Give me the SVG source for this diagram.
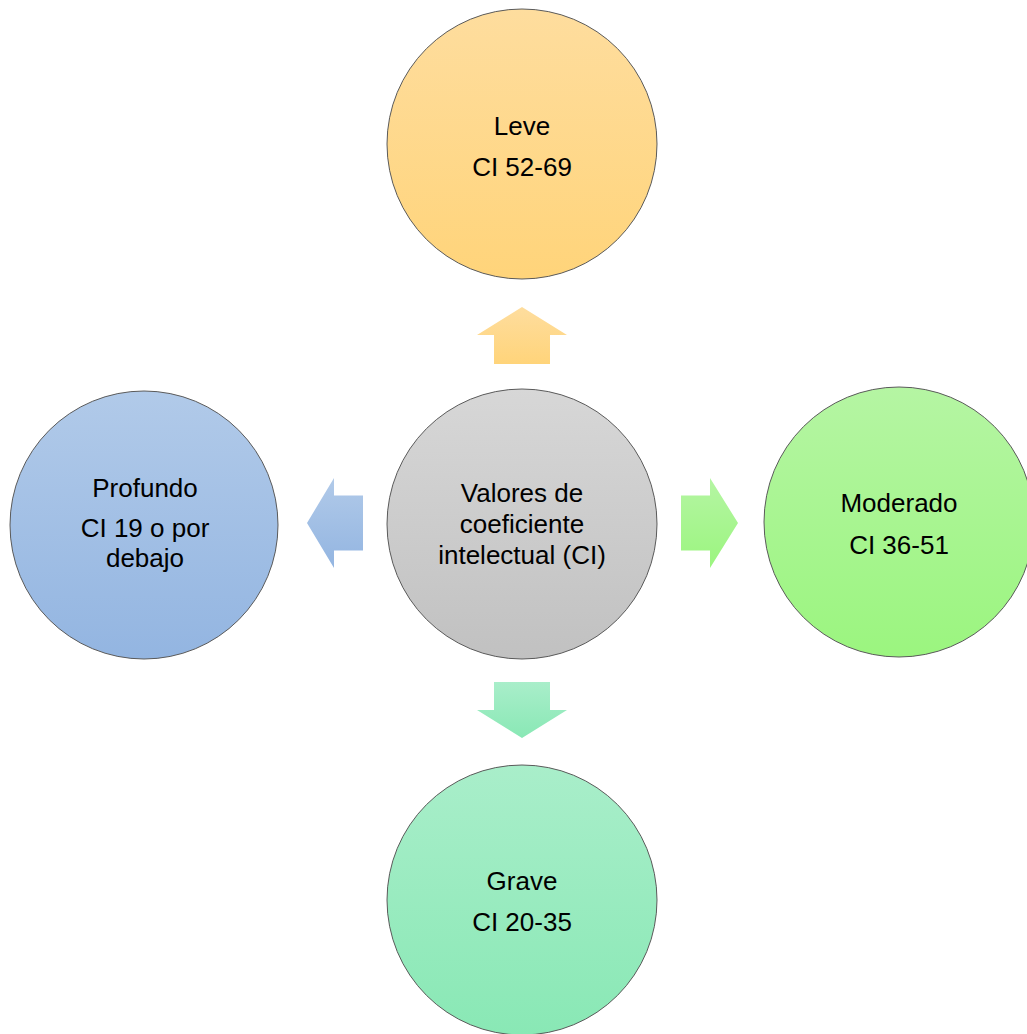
<svg xmlns="http://www.w3.org/2000/svg" width="1027" height="1034" viewBox="0 0 1027 1034">
<defs>
<linearGradient id="gOrange" x1="0" y1="0" x2="0" y2="1"><stop offset="0" stop-color="#FEDD9E"/><stop offset="1" stop-color="#FFD47A"/></linearGradient>
<linearGradient id="gGray" x1="0" y1="0" x2="0" y2="1"><stop offset="0" stop-color="#D7D7D7"/><stop offset="1" stop-color="#C1C1C1"/></linearGradient>
<linearGradient id="gBlue" x1="0" y1="0" x2="0" y2="1"><stop offset="0" stop-color="#B1CAE9"/><stop offset="1" stop-color="#93B5E1"/></linearGradient>
<linearGradient id="gGreen" x1="0" y1="0" x2="0" y2="1"><stop offset="0" stop-color="#B5F5A3"/><stop offset="1" stop-color="#9BF57F"/></linearGradient>
<linearGradient id="gTeal" x1="0" y1="0" x2="0" y2="1"><stop offset="0" stop-color="#A9EECA"/><stop offset="1" stop-color="#89E8B5"/></linearGradient>
</defs>
<style>
.node circle{stroke:#5a5a5a;stroke-width:1}
text{font-family:"Liberation Sans",Arial,sans-serif;font-size:26px;fill:#000;text-anchor:middle}
</style>
<g id="connectors">
<polygon id="arrow-up" fill="url(#gOrange)" points="522,307 567,335 550,335 550,364 494,364 494,335 477,335"/>
<polygon id="arrow-left" fill="url(#gBlue)" points="307,523 334,478 334,495.5 363,495.5 363,550.5 334,550.5 334,568"/>
<polygon id="arrow-right" fill="url(#gGreen)" points="738,523 710,478 710,495.5 681,495.5 681,550.5 710,550.5 710,568"/>
<polygon id="arrow-down" fill="url(#gTeal)" points="522,738 567,710 550,710 550,682 494,682 494,710 477,710"/>
</g>
<g id="node-leve" class="node">
<circle cx="522" cy="144" r="135" fill="url(#gOrange)"/>
<text x="522" y="135">Leve</text>
<text x="522" y="176">CI 52-69</text>
</g>
<g id="node-centro" class="node">
<circle cx="522" cy="524" r="135" fill="url(#gGray)"/>
<text x="522" y="502">Valores de</text>
<text x="522" y="533">coeficiente</text>
<text x="522" y="564">intelectual (CI)</text>
</g>
<g id="node-profundo" class="node">
<circle cx="144" cy="525" r="134" fill="url(#gBlue)"/>
<text x="145" y="497">Profundo</text>
<text x="145" y="537">CI 19 o por</text>
<text x="145" y="567">debajo</text>
</g>
<g id="node-moderado" class="node">
<circle cx="899" cy="522" r="135" fill="url(#gGreen)"/>
<text x="899" y="512">Moderado</text>
<text x="899" y="554">CI 36-51</text>
</g>
<g id="node-grave" class="node">
<circle cx="522" cy="900" r="135" fill="url(#gTeal)"/>
<text x="522" y="890">Grave</text>
<text x="522" y="931">CI 20-35</text>
</g>
</svg>
